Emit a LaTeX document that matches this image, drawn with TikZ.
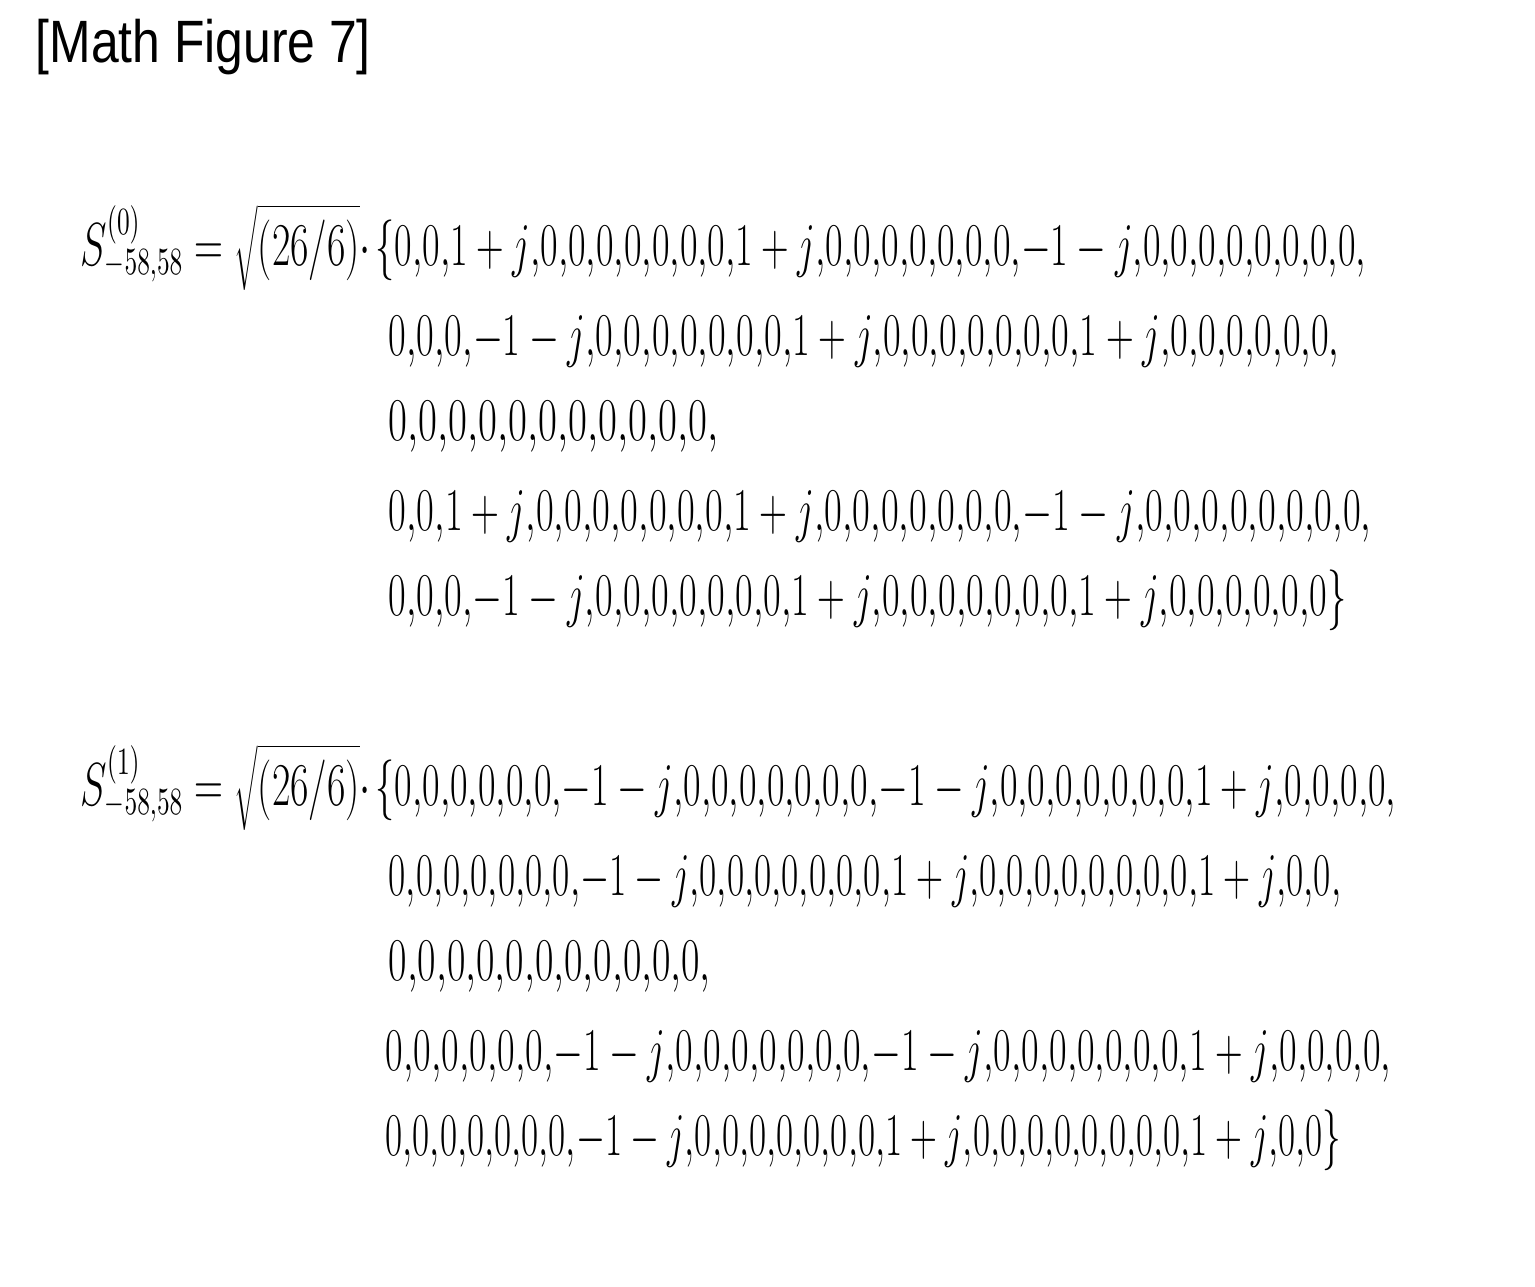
\documentclass[tikz,border=0pt]{standalone}
\usepackage{fontspec}
\setmainfont{Liberation Sans}
\usepackage{graphicx}
\newcommand\fl[2]{\resizebox{#1}{\height}{\fontsize{16}{18}\selectfont$#2$}}
\newcommand\cm{{,}}
\newcommand\mo{{-}1-j}
\begin{document}
\begin{tikzpicture}[x=0.01cm,y=-0.01cm,ln/.style={anchor=base west,inner sep=0pt}]
\useasboundingbox (0,0) rectangle (1535,1287);
\node[ln] (t) at (35,62) {\resizebox{3.35cm}{\height}{\fontsize{17}{20}\selectfont [Math Figure 7]}};
\node[ln] (l0) at (80,265) {\fl{2.9cm}{S^{(0)}_{-58\cm58}=\sqrt{\bigl(26/6\bigr)}\cdot}};
\node[ln] (a1) at (375,265) {\fl{9.9cm}{\{0\cm0\cm1+j\cm0\cm0\cm0\cm0\cm0\cm0\cm0\cm1+j\cm0\cm0\cm0\cm0\cm0\cm0\cm0\cm\mo\cm0\cm0\cm0\cm0\cm0\cm0\cm0\cm0\cm}};
\node[ln] (a2) at (388,355) {\fl{9.5cm}{0\cm0\cm0\cm\mo\cm0\cm0\cm0\cm0\cm0\cm0\cm0\cm1+j\cm0\cm0\cm0\cm0\cm0\cm0\cm0\cm1+j\cm0\cm0\cm0\cm0\cm0\cm0\cm}};
\node[ln] (a3) at (388,440) {\fl{3.3cm}{0\cm0\cm0\cm0\cm0\cm0\cm0\cm0\cm0\cm0\cm0\cm}};
\node[ln] (a4) at (388,530) {\fl{9.82cm}{0\cm0\cm1+j\cm0\cm0\cm0\cm0\cm0\cm0\cm0\cm1+j\cm0\cm0\cm0\cm0\cm0\cm0\cm0\cm\mo\cm0\cm0\cm0\cm0\cm0\cm0\cm0\cm0\cm}};
\node[ln] (a5) at (388,615) {\fl{9.57cm}{0\cm0\cm0\cm\mo\cm0\cm0\cm0\cm0\cm0\cm0\cm0\cm1+j\cm0\cm0\cm0\cm0\cm0\cm0\cm0\cm1+j\cm0\cm0\cm0\cm0\cm0\cm0\}}};
\node[ln] (l1) at (80,805) {\fl{2.9cm}{S^{(1)}_{-58\cm58}=\sqrt{\bigl(26/6\bigr)}\cdot}};
\node[ln] (b1) at (375,805) {\fl{10.2cm}{\{0\cm0\cm0\cm0\cm0\cm0\cm\mo\cm0\cm0\cm0\cm0\cm0\cm0\cm0\cm\mo\cm0\cm0\cm0\cm0\cm0\cm0\cm0\cm1+j\cm0\cm0\cm0\cm0\cm}};
\node[ln] (b2) at (388,895) {\fl{9.52cm}{0\cm0\cm0\cm0\cm0\cm0\cm0\cm\mo\cm0\cm0\cm0\cm0\cm0\cm0\cm0\cm1+j\cm0\cm0\cm0\cm0\cm0\cm0\cm0\cm0\cm1+j\cm0\cm0\cm}};
\node[ln] (b3) at (388,980) {\fl{3.22cm}{0\cm0\cm0\cm0\cm0\cm0\cm0\cm0\cm0\cm0\cm0\cm}};
\node[ln] (b4) at (385,1070) {\fl{10.05cm}{0\cm0\cm0\cm0\cm0\cm0\cm\mo\cm0\cm0\cm0\cm0\cm0\cm0\cm0\cm\mo\cm0\cm0\cm0\cm0\cm0\cm0\cm0\cm1+j\cm0\cm0\cm0\cm0\cm}};
\node[ln] (b5) at (385,1155) {\fl{9.55cm}{0\cm0\cm0\cm0\cm0\cm0\cm0\cm\mo\cm0\cm0\cm0\cm0\cm0\cm0\cm0\cm1+j\cm0\cm0\cm0\cm0\cm0\cm0\cm0\cm0\cm1+j\cm0\cm0\}}};
\end{tikzpicture}
\end{document}
